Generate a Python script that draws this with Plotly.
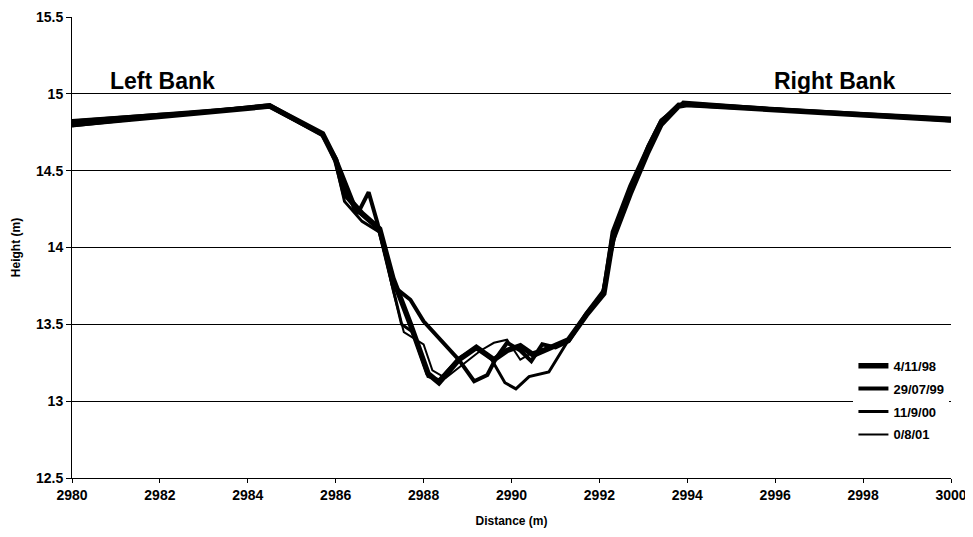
import plotly.graph_objects as go

# ---- data ----
series_names = ["4/11/98", "29/07/99", "11/9/00", "0/8/01"]

dist_98 = [2980, 2984.5, 2985.7, 2986.0, 2986.2, 2986.6, 2987.0, 2987.3, 2987.7, 2988.1, 2988.35,
           2988.8, 2989.2, 2989.6, 2989.9, 2990.2, 2990.5, 2990.9, 2991.3, 2991.7, 2992.1, 2992.3,
           2992.7, 2993.1, 2993.4, 2993.8, 2994.0, 3000]
height_98 = [14.80, 14.92, 14.74, 14.57, 14.35, 14.22, 14.12, 13.80, 13.50, 13.18, 13.12,
             13.27, 13.35, 13.27, 13.33, 13.36, 13.30, 13.35, 13.40, 13.56, 13.70, 14.05,
             14.35, 14.62, 14.80, 14.92, 14.93, 14.83]

dist_99 = [2980, 2984.5, 2985.7, 2986.0, 2986.5, 2986.75, 2986.95, 2987.3, 2987.7, 2988.0, 2988.8,
           2989.15, 2989.45, 2989.65, 2989.9, 2990.2, 2990.45, 2990.7, 2991.0, 2991.3, 2991.7,
           2992.1, 2992.3, 2992.7, 2993.1, 2993.4, 2993.8, 3000]
height_99 = [14.82, 14.92, 14.73, 14.58, 14.22, 14.36, 14.16, 13.75, 13.66, 13.52, 13.27,
             13.13, 13.17, 13.28, 13.38, 13.33, 13.26, 13.37, 13.35, 13.39, 13.57,
             13.72, 14.10, 14.40, 14.65, 14.82, 14.93, 14.84]

dist_00 = [2980, 2984.5, 2985.7, 2986.0, 2986.2, 2986.6, 2987.0, 2987.3, 2987.5, 2987.75, 2988.1,
           2988.35, 2988.8, 2989.2, 2989.55, 2989.85, 2990.1, 2990.4, 2990.85, 2991.3, 2991.7,
           2992.05, 2992.3, 2992.45, 2992.75, 2993.1, 2993.4, 2993.9, 3000]
height_00 = [14.79, 14.93, 14.74, 14.55, 14.30, 14.17, 14.10, 13.73, 13.50, 13.45, 13.16,
             13.14, 13.28, 13.35, 13.27, 13.12, 13.08, 13.16, 13.19, 13.40, 13.57,
             13.68, 14.00, 14.20, 14.40, 14.66, 14.83, 14.94, 14.83]

dist_01 = [2980, 2982, 2984.5, 2985.7, 2986.0, 2986.4, 2987.0, 2987.3, 2987.55, 2988.0, 2988.2,
           2988.5, 2988.9, 2989.3, 2989.6, 2989.9, 2990.2, 2990.5, 2990.95, 2991.3, 2991.7,
           2992.1, 2992.35, 2992.7, 2993.1, 2993.4, 2993.9, 3000]
height_01 = [14.83, 14.87, 14.91, 14.73, 14.57, 14.25, 14.12, 13.72, 13.45, 13.37, 13.20,
             13.15, 13.24, 13.33, 13.38, 13.40, 13.27, 13.32, 13.36, 13.40, 13.55,
             13.70, 14.10, 14.35, 14.64, 14.80, 14.95, 14.82]

x_ticks = [2980, 2982, 2984, 2986, 2988, 2990, 2992, 2994, 2996, 2998, 3000]
y_ticks = [12.5, 13, 13.5, 14, 14.5, 15, 15.5]
y_tick_text = ["12.5", "13", "13.5", "14", "14.5", "15", "15.5"]

all_x = [dist_98, dist_99, dist_00, dist_01]
all_y = [height_98, height_99, height_00, height_01]
widths = [5.5, 4, 3, 2]

FONT = "Liberation Sans, Arial, sans-serif"

fig = go.Figure()
for i, (name, xs, ys) in enumerate(zip(series_names, all_x, all_y)):
    fig.add_trace(go.Scatter(
        x=xs, y=ys, mode="lines", name=name,
        line=dict(color="black", width=widths[i]),
        legendgroup=name,
    ))

# page body has an 8px margin, so the figure is offset by 8px inside the window
fig.update_layout(
    width=965, height=529,
    margin=dict(l=64, r=22, t=9, b=59, autoexpand=False),
    paper_bgcolor="white", plot_bgcolor="white",
    font=dict(family=FONT, size=13, color="black", weight="bold"),
    showlegend=True,
    legend=dict(
        x=0.889, y=0.276, xanchor="left", yanchor="top",
        bgcolor="white", borderwidth=0,
        font=dict(family=FONT, size=13, color="black", weight="bold"),
        tracegroupgap=3, itemwidth=30,
    ),
    annotations=[
        dict(x=2982.07, y=15.085, xref="x", yref="y", text="Left Bank", showarrow=False,
             font=dict(family=FONT, size=23, color="black", weight="bold")),
        dict(x=2997.35, y=15.085, xref="x", yref="y", text="Right Bank", showarrow=False,
             font=dict(family=FONT, size=23, color="black", weight="bold")),
    ],
)

fig.update_xaxes(
    range=[2980, 3000], tickvals=x_ticks, ticktext=[str(v) for v in x_ticks],
    showgrid=False, showline=True, linecolor="black", linewidth=1,
    ticks="outside", ticklen=4, tickcolor="black", zeroline=False, automargin=False,
    ticklabeloverflow="allow",
    tickfont=dict(family=FONT, size=14, color="black", weight="bold"),
    title=dict(text="Distance (m)", font=dict(family=FONT, size=12, color="black", weight="bold"),
               standoff=14),
)
fig.update_yaxes(
    range=[12.5, 15.5], tickvals=y_ticks, ticktext=y_tick_text,
    showgrid=True, gridcolor="black", gridwidth=1,
    showline=True, linecolor="black", linewidth=1,
    ticks="outside", ticklen=5, tickcolor="black", zeroline=False, automargin=False,
    ticklabeloverflow="allow",
    tickfont=dict(family=FONT, size=14, color="black", weight="bold"),
    title=dict(text="Height (m)", font=dict(family=FONT, size=12, color="black", weight="bold"),
               standoff=12),
)

fig.write_html("out.html")
